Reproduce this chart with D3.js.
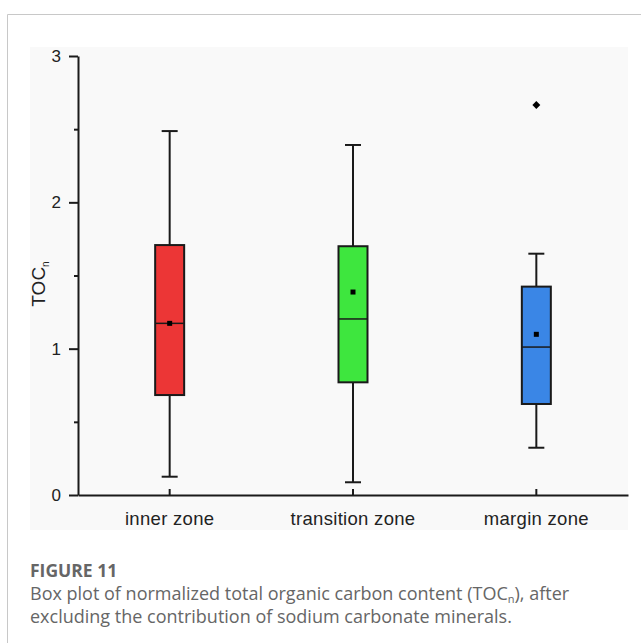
<!DOCTYPE html>
<html>
<head>
<meta charset="utf-8">
<script src="https://cdn.jsdelivr.net/npm/d3@7"></script>
<style>
  html, body { margin: 0; padding: 0; background: #fff; }
  svg { display: block; }
</style>
</head>
<body>
<div id="chart"></div>
<script>
// categories and box statistics
const zones = ["inner zone", "transition zone", "margin zone"];
const whiskerLow = [0.125, 0.087, 0.323];
const q1 = [0.683, 0.770, 0.622];
const median = [1.173, 1.203, 1.011];
const q3 = [1.708, 1.700, 1.424];
const whiskerHigh = [2.487, 2.392, 1.649];
const means = [1.173, 1.387, 1.098];
const outliers = [[], [], [2.665]];
const boxColors = ["#ec3636", "#3ee63e", "#3a86e6"];
const yTicks = [0, 1, 2, 3];
const yMinorTicks = [0.5, 1.5, 2.5];

const W = 641, H = 643;

const svg = d3.select("#chart")
  .append("svg")
  .attr("width", W)
  .attr("height", H);

// card border (open at right and bottom)
svg.append("path")
  .attr("d", "M7.5," + H + " V14.5 H" + W)
  .attr("fill", "none")
  .attr("stroke", "#c8c8c8")
  .attr("stroke-width", 1);

// plot panel background
svg.append("rect")
  .attr("x", 30)
  .attr("y", 47)
  .attr("width", 598)
  .attr("height", 483)
  .attr("fill", "#f9f9f9");

const x = d3.scaleBand()
  .domain(zones)
  .range([78, 628]);

const y = d3.scaleLinear()
  .domain([0, 3])
  .range([495, 56]);

const data = zones.map((z, i) => ({
  zone: z,
  lo: whiskerLow[i],
  q1: q1[i],
  med: median[i],
  q3: q3[i],
  hi: whiskerHigh[i],
  mean: means[i],
  out: outliers[i],
  color: boxColors[i]
}));

const boxW = 29, capW = 16;

const g = svg.append("g");

const box = g.selectAll("g.box")
  .data(data)
  .enter()
  .append("g")
  .attr("class", "box")
  .attr("transform", d => "translate(" + (x(d.zone) + x.bandwidth() / 2) + ",0)");

// whiskers
box.append("line")
  .attr("x1", 0).attr("x2", 0)
  .attr("y1", d => y(d.hi)).attr("y2", d => y(d.q3))
  .attr("stroke", "#1a1a1a").attr("stroke-width", 2);
box.append("line")
  .attr("x1", 0).attr("x2", 0)
  .attr("y1", d => y(d.q1)).attr("y2", d => y(d.lo))
  .attr("stroke", "#1a1a1a").attr("stroke-width", 2);
box.append("line")
  .attr("x1", -capW / 2).attr("x2", capW / 2)
  .attr("y1", d => y(d.hi)).attr("y2", d => y(d.hi))
  .attr("stroke", "#1a1a1a").attr("stroke-width", 2);
box.append("line")
  .attr("x1", -capW / 2).attr("x2", capW / 2)
  .attr("y1", d => y(d.lo)).attr("y2", d => y(d.lo))
  .attr("stroke", "#1a1a1a").attr("stroke-width", 2);

// boxes
box.append("rect")
  .attr("x", -boxW / 2)
  .attr("width", boxW)
  .attr("y", d => y(d.q3))
  .attr("height", d => y(d.q1) - y(d.q3))
  .attr("fill", d => d.color)
  .attr("stroke", "#1a1a1a")
  .attr("stroke-width", 2);

// median
box.append("line")
  .attr("x1", -boxW / 2).attr("x2", boxW / 2)
  .attr("y1", d => y(d.med)).attr("y2", d => y(d.med))
  .attr("stroke", "#1a1a1a").attr("stroke-width", 1.5);

// mean square
box.append("rect")
  .attr("x", -2.5).attr("width", 5)
  .attr("y", d => y(d.mean) - 2.5).attr("height", 5)
  .attr("fill", "#000");

// outliers (diamonds)
box.selectAll("path.out")
  .data(d => d.out)
  .enter()
  .append("path")
  .attr("class", "out")
  .attr("d", d3.symbol(d3.symbolDiamond2, 40))
  .attr("transform", d => "translate(0," + y(d) + ")")
  .attr("fill", "#000");

// y axis
const yAxis = svg.append("g")
  .attr("transform", "translate(78,0)")
  .call(d3.axisLeft(y).tickValues(yTicks).tickFormat(d3.format("d")).tickSize(9).tickSizeOuter(0).tickPadding(8));
svg.append("g")
  .attr("transform", "translate(78,0)")
  .call(d3.axisLeft(y).tickValues(yMinorTicks).tickFormat("").tickSize(4).tickSizeOuter(0))
  .select(".domain").remove();

// x axis, ticks pointing up
const xAxis = svg.append("g")
  .attr("transform", "translate(0,495)")
  .call(d3.axisBottom(x).tickSize(0).tickSizeOuter(0).tickPadding(17));
xAxis.selectAll(".tick").append("line")
  .attr("y1", 0).attr("y2", -6);

svg.selectAll(".domain").attr("stroke", "#1a1a1a").attr("stroke-width", 2);
svg.selectAll(".tick line").attr("stroke", "#1a1a1a").attr("stroke-width", 2);

yAxis.selectAll("text")
  .style("font-family", "'Liberation Sans', Arial, sans-serif")
  .style("font-size", "17px")
  .attr("fill", "#222");
xAxis.selectAll("text")
  .style("font-family", "'Liberation Sans', Arial, sans-serif")
  .style("font-size", "18.5px")
  .style("letter-spacing", "0.3px")
  .attr("fill", "#222")
  .attr("dy", "0.71em");

// y axis title TOC_n
const yTitle = svg.append("text")
  .attr("transform", "translate(45,284) rotate(-90)")
  .attr("text-anchor", "middle")
  .style("font-family", "'Liberation Sans', Arial, sans-serif")
  .style("font-size", "19px")
  .attr("fill", "#222");
yTitle.append("tspan").text("TOC");
yTitle.append("tspan").style("font-size", "10px").attr("dy", 4).text("n");

// caption
svg.append("text")
  .attr("x", 30).attr("y", 577)
  .style("font-family", "'Open Sans', sans-serif")
  .style("font-weight", "bold")
  .style("font-size", "17.5px")
  .attr("fill", "#666")
  .text("FIGURE 11");

const cap1 = svg.append("text")
  .attr("x", 30).attr("y", 600)
  .style("font-family", "'Open Sans', sans-serif")
  .style("font-size", "18px")
  .attr("fill", "#666");
cap1.append("tspan").text("Box plot of normalized total organic carbon content (TOC");
cap1.append("tspan").style("font-size", "11px").attr("dy", 2.5).text("n");
cap1.append("tspan").attr("dy", -2.5).text("), after");

svg.append("text")
  .attr("x", 30).attr("y", 623)
  .style("font-family", "'Open Sans', sans-serif")
  .style("font-size", "18px")
  .attr("fill", "#666")
  .text("excluding the contribution of sodium carbonate minerals.");
</script>
</body>
</html>
